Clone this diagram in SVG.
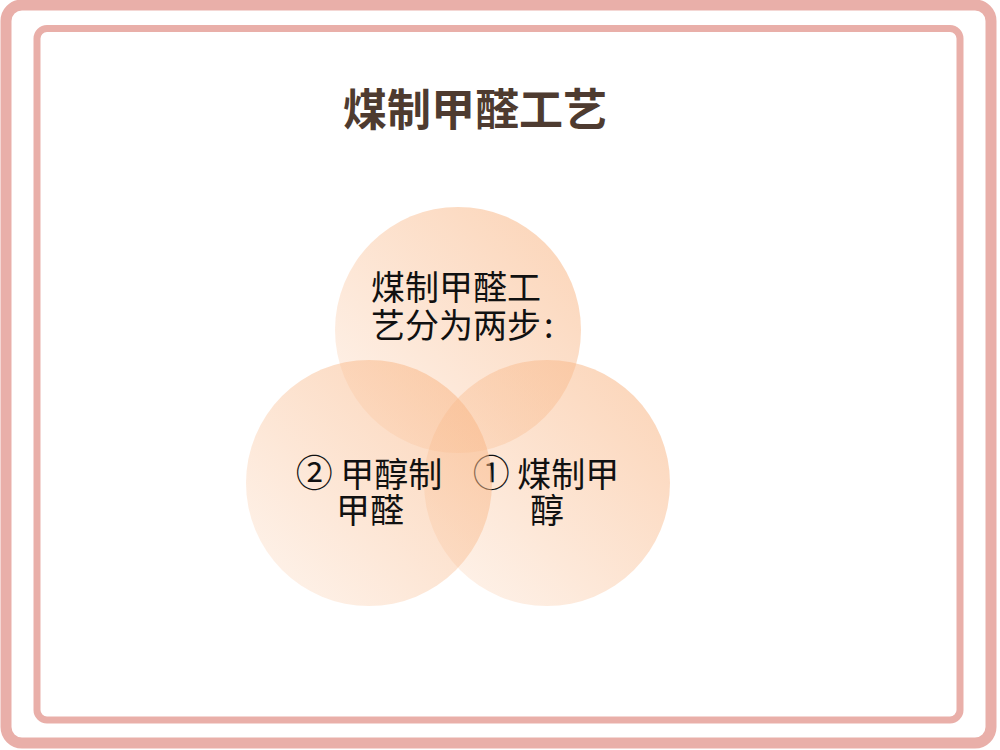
<svg xmlns="http://www.w3.org/2000/svg" width="1000" height="750" viewBox="0 0 1000 750">
  <defs>
    <linearGradient id="petal" x1="0.15" y1="0.85" x2="0.85" y2="0.15">
      <stop offset="0" stop-color="#F9B98A" stop-opacity="0.22"/>
      <stop offset="1" stop-color="#F9B98A" stop-opacity="0.56"/>
    </linearGradient>
    <style>
      .frame { fill: none; stroke: #E9AFA9; }
      .circle { fill: url(#petal); }
      .title { font-family: "Noto Sans CJK SC", "Liberation Sans", sans-serif; font-weight: bold; font-size: 44px; fill: #4E3B30; }
      .label { font-family: "Noto Sans CJK SC", "Liberation Sans", sans-serif; font-size: 34px; fill: #111111; }
      .num { font-size: 37px; }
    </style>
  </defs>
  <rect width="1000" height="750" fill="#FFFFFF"/>
  <g id="frame">
    <rect class="frame" x="6" y="5" width="985" height="738" rx="16" stroke-width="11"/>
    <rect class="frame" x="37" y="28.5" width="923" height="691.5" rx="10" stroke-width="7"/>
  </g>
  <g id="title">
    <text class="title" x="475" y="126" text-anchor="middle">煤制甲醛工艺</text>
  </g>
  <g id="connectors"></g>
  <g id="node-top">
    <circle class="circle" cx="458" cy="330" r="123"/>
    <text class="label" x="371" y="300">煤制甲醛工</text>
    <text class="label" x="371" y="338">艺分为两步<tspan dx="3">:</tspan></text>
  </g>
  <g id="node-right">
    <circle class="circle" cx="547" cy="483" r="123"/>
    <text class="label" x="546" y="487" text-anchor="middle"><tspan class="num">①</tspan> 煤制甲</text>
    <text class="label" x="547" y="523" text-anchor="middle">醇</text>
  </g>
  <g id="node-left">
    <circle class="circle" cx="369" cy="483" r="123"/>
    <text class="label" x="369" y="487" text-anchor="middle"><tspan class="num">②</tspan> 甲醇制</text>
    <text class="label" x="370" y="523" text-anchor="middle">甲醛</text>
  </g>
</svg>
